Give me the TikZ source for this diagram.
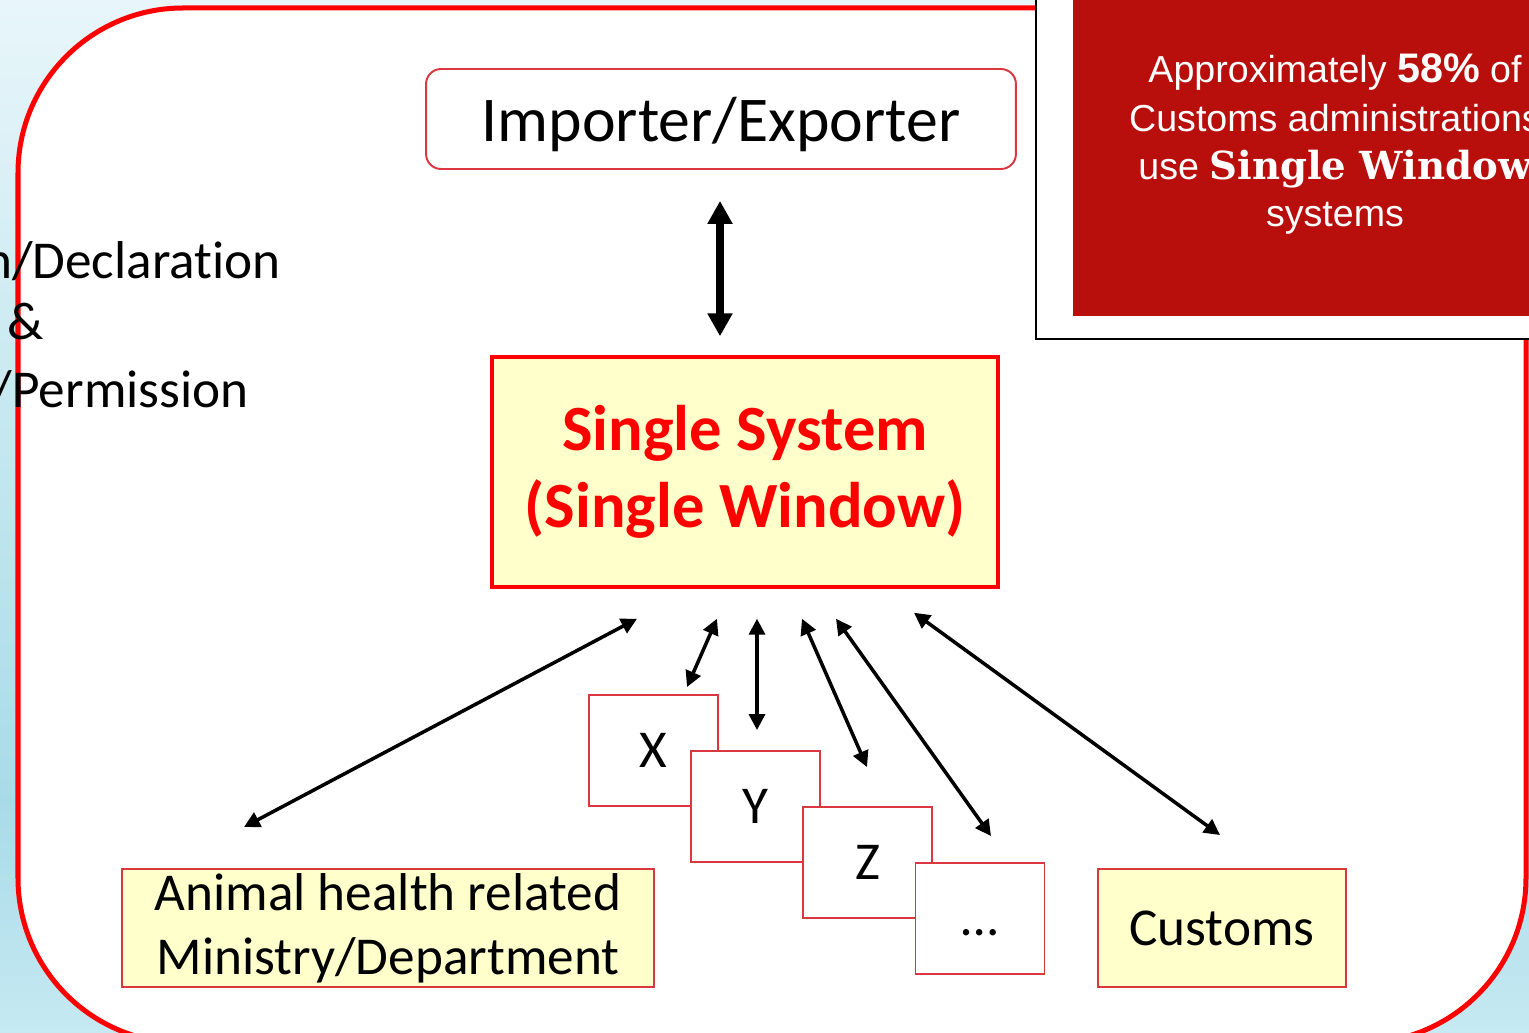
\documentclass[tikz,border=0pt]{standalone}
\usepackage{fontspec}
\setmainfont{Carlito}[Ligatures={NoCommon}]
\newfontfamily\infofont{Liberation Sans}
\newfontfamily\slabfont{DejaVu Serif}
\usetikzlibrary{arrows.meta}
\definecolor{boxred}{RGB}{218,56,62}
\definecolor{swyellow}{RGB}{255,255,204}
\definecolor{infored}{RGB}{184,14,12}
\definecolor{bgtop}{RGB}{232,246,250}
\definecolor{bgdark}{RGB}{168,219,232}
\definecolor{bgbot}{RGB}{198,233,242}
\tikzstyle{frame}=[draw=red, line width=2.85pt, fill=white, rounded corners=3.3cm]
\tikzstyle{panel}=[draw=black, line width=1.1pt, fill=white]
\tikzstyle{sideText}=[inner sep=0pt, font=\fontsize{30.3}{36}\selectfont]
\tikzstyle{infoText}=[anchor=base, inner sep=0pt, text=white, font=\infofont\fontsize{21.4}{24}\selectfont]
\tikzstyle{trader}=[draw=boxred, line width=1.1pt, fill=white, rounded corners=0.3cm,
  minimum width=11.8cm, minimum height=2cm, text depth=0pt, font=\fontsize{36.3}{40}\selectfont]
\tikzstyle{single}=[draw=red, line width=2pt, fill=swyellow, text=red, align=center,
  minimum width=10.12cm, minimum height=4.6cm, font=\bfseries\fontsize{36.7}{43.8}\selectfont]
\tikzstyle{agency}=[draw=boxred, line width=1.1pt, fill=white, inner sep=0pt,
  minimum width=2.58cm, minimum height=2.22cm, text height=19.2pt, text depth=0pt,
  font=\fontsize{30.3}{36}\selectfont]
\tikzstyle{ministry}=[draw=boxred, line width=1.1pt, fill=swyellow, align=center, inner sep=0pt,
  minimum height=2.36cm, font=\fontsize{30.3}{36.5}\selectfont]
\tikzstyle{link}=[line width=2pt, {Triangle[length=9pt,width=9pt]}-{Triangle[length=9pt,width=9pt]}]
\tikzstyle{biglink}=[line width=4pt, {Triangle[length=13pt,width=13.5pt]}-{Triangle[length=13pt,width=13.5pt]}]

\begin{document}
\begin{tikzpicture}[x=0.02cm, y=-0.02cm]
  \useasboundingbox (0,0) rectangle (1529,1033);
  % background and frame
  \shade[top color=bgtop, bottom color=bgdark] (0,0) rectangle (1529,800);
  \shade[top color=bgdark, bottom color=bgbot] (0,800) rectangle (1529,1033);
  \draw[frame] (18,8) rectangle (1526,1043);

  % text cut at the left edge
  \node[sideText, anchor=base east] (decl) at (281,279) {n/Declaration};
  \node[sideText, anchor=base] (amp) at (26,340) {\&};
  \node[sideText, anchor=base east] (perm) at (249,408) {/Permission};

  % info panel
  \draw[panel] (1036,-20) rectangle (1600,339);
  \fill[infored] (1073,-20) rectangle (1600,316);
  \node[infoText] (info1) at (1335,83)
    {Approximately {\bfseries\fontsize{23.5}{23.5}\selectfont 58\%} of};
  \node[infoText] (info2) at (1335,132) {Customs administrations};
  \node[infoText] (info3) at (1335,180)
    {use {\slabfont\bfseries\fontsize{22}{22}\selectfont Single Window}};
  \node[infoText] (info4) at (1335,227) {systems};

  \node[trader] (trader) at (721,119) {Importer/Exporter};
  \node[single] (sw) at (745,472) {Single System\\(Single Window)};

  \node[agency] (agX) at (653.5,750.5) {X};
  \node[agency] (agY) at (755.5,806.5) {Y};
  \node[agency] (agZ) at (867.5,862.5) {Z};
  \node[agency] (agMore) at (980,918.5) {\dots};

  \node[ministry, minimum width=10.64cm] (animal) at (388,928)
    {Animal health related\\Ministry/Department};
  \node[ministry, minimum width=4.96cm] (customs) at (1222,928) {Customs};

  \draw[biglink] ([shift={(-1,31)}]trader.south) -- ([shift={(-25,-19)}]sw.north);
  \draw[link] ([shift={(-108,30)}]sw.south) -- ([shift={(-144,-41)}]animal.north);
  \draw[link] ([shift={(-28,30)}]sw.south) -- ([shift={(33.5,-7)}]agX.north);
  \draw[link] ([shift={(12,30)}]sw.south) -- ([shift={(1.5,-20)}]agY.north);
  \draw[link] ([shift={(57,30)}]sw.south) -- ([shift={(-0.5,-39)}]agZ.north);
  \draw[link] ([shift={(91,30)}]sw.south) -- ([shift={(11,-26)}]agMore.north);
  \draw[link] ([shift={(169,24)}]sw.south) -- ([shift={(-2,-33)}]customs.north);
\end{tikzpicture}
\end{document}
